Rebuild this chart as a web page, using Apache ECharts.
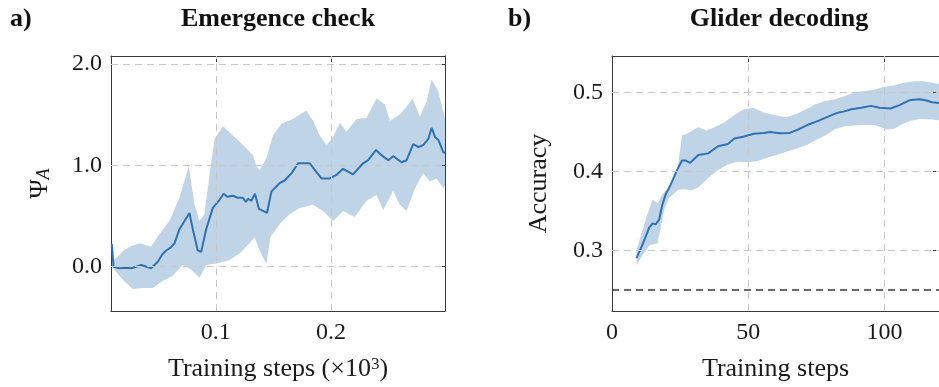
<!DOCTYPE html>
<html>
<head>
<meta charset="utf-8">
<script src="https://cdn.jsdelivr.net/npm/echarts@6/dist/echarts.min.js"></script>
<style>
  html, body { margin: 0; padding: 0; background: #fff; }
  #chart { width: 939px; height: 387px; }
</style>
</head>
<body>
<div id="chart"></div>
<script>
// a) Emergence check, x in training steps (x10^3)
const psiMeanX = [0.0097, 0.0112, 0.0163, 0.0215, 0.0264, 0.031, 0.0351, 0.04, 0.0438, 0.0496, 0.0535, 0.0569, 0.061, 0.0641, 0.0684, 0.0728, 0.0771, 0.08, 0.0843, 0.0873, 0.0916, 0.0974, 0.1032, 0.1067, 0.11, 0.1148, 0.119, 0.1235, 0.126, 0.128, 0.1308, 0.134, 0.1374, 0.1409, 0.1444, 0.1482, 0.1554, 0.1597, 0.1656, 0.1714, 0.1815, 0.1858, 0.1917, 0.1989, 0.2047, 0.2104, 0.2191, 0.2278, 0.2322, 0.2389, 0.2438, 0.2496, 0.2539, 0.2612, 0.2656, 0.2713, 0.276, 0.28, 0.2844, 0.2873, 0.2902, 0.2931, 0.2974, 0.2989];
const psiMean = [0.226, 0.0, -0.016, -0.01, -0.016, 0.0, 0.016, 0.0, -0.016, 0.049, 0.12, 0.16, 0.19, 0.23, 0.37, 0.45, 0.53, 0.37, 0.16, 0.146, 0.37, 0.58, 0.66, 0.72, 0.69, 0.7, 0.68, 0.68, 0.64, 0.67, 0.65, 0.72, 0.57, 0.55, 0.53, 0.74, 0.825, 0.85, 0.92, 1.02, 1.02, 0.955, 0.87, 0.87, 0.905, 0.965, 0.91, 1.02, 1.05, 1.15, 1.1, 1.05, 1.09, 1.03, 1.05, 1.21, 1.18, 1.2, 1.26, 1.37, 1.28, 1.25, 1.13, 1.12];
const psiUpperX = [0.0097, 0.015, 0.02, 0.026, 0.0339, 0.04, 0.0438, 0.051, 0.0597, 0.0684, 0.0765, 0.0815, 0.0858, 0.0902, 0.0945, 0.0989, 0.1061, 0.1148, 0.1235, 0.1322, 0.135, 0.138, 0.1438, 0.1496, 0.1569, 0.167, 0.1786, 0.1843, 0.1902, 0.196, 0.2018, 0.2076, 0.2134, 0.2221, 0.2308, 0.2395, 0.2467, 0.251, 0.2597, 0.2656, 0.2708, 0.2771, 0.283, 0.2873, 0.2931, 0.2989];
const psiUpper = [0.05, 0.1, 0.16, 0.2, 0.23, 0.21, 0.2, 0.32, 0.45, 0.68, 0.99, 0.61, 0.45, 0.52, 0.906, 1.26, 1.385, 1.295, 1.2, 1.1, 1.0, 0.95, 1.07, 1.295, 1.41, 1.456, 1.54, 1.44, 1.295, 1.2, 1.28, 1.42, 1.33, 1.456, 1.47, 1.66, 1.6, 1.44, 1.5, 1.58, 1.66, 1.48, 1.63, 1.845, 1.73, 1.456];
const psiLowerX = [0.0097, 0.0192, 0.0278, 0.0365, 0.0453, 0.0539, 0.0626, 0.0713, 0.0786, 0.0858, 0.0917, 0.1003, 0.1119, 0.1206, 0.1293, 0.1337, 0.138, 0.1438, 0.1473, 0.1554, 0.1641, 0.1728, 0.1843, 0.193, 0.2018, 0.2104, 0.2206, 0.2308, 0.2395, 0.2453, 0.254, 0.2597, 0.2656, 0.2728, 0.28, 0.2858, 0.2916, 0.2974, 0.2989];
const psiLower = [0.0, -0.13, -0.22, -0.21, -0.21, -0.14, -0.09, 0.02, -0.03, -0.11, 0.02, 0.03, 0.065, 0.13, 0.23, 0.29, 0.16, 0.03, 0.29, 0.42, 0.52, 0.58, 0.61, 0.55, 0.45, 0.55, 0.49, 0.65, 0.71, 0.56, 0.75, 0.61, 0.55, 0.77, 0.92, 0.84, 0.87, 0.77, 0.8];
const psiTicksX = [0.1, 0.2];
const psiTicksY = [0, 1, 2];

// b) Glider decoding, x in training steps
const accMeanX = [9, 11.3, 13.7, 14.9, 16.1, 17.3, 18.5, 19.7, 21.5, 23.9, 25.7, 26.9, 28.7, 31.7, 35.3, 38.9, 42.5, 44.9, 48.5, 52, 55.6, 58, 61.6, 65.2, 68.8, 72.4, 75.9, 79.5, 83.1, 84.9, 87.9, 91.5, 95.1, 98.1, 102.3, 105.3, 109.5, 113.1, 115.4, 117.5, 120];
const accMean = [0.29, 0.308, 0.329, 0.334, 0.333, 0.339, 0.358, 0.371, 0.383, 0.402, 0.414, 0.414, 0.411, 0.421, 0.423, 0.432, 0.435, 0.442, 0.4445, 0.448, 0.449, 0.45, 0.4485, 0.449, 0.454, 0.46, 0.4645, 0.47, 0.475, 0.476, 0.479, 0.481, 0.4833, 0.4808, 0.48, 0.484, 0.4908, 0.4916, 0.49, 0.488, 0.487];
const accUpperX = [9, 12.6, 14.9, 16.7, 18.5, 20.9, 23.9, 25.7, 27.5, 31.7, 34.7, 37.7, 41.3, 44.9, 48.5, 52, 55.6, 60.4, 64, 67.6, 71.2, 74.7, 78.3, 81.9, 85.5, 89.1, 92.7, 96.3, 99.9, 103.5, 107.1, 110.7, 114.2, 117.5, 120];
const accUpper = [0.3, 0.3416, 0.3645, 0.36, 0.371, 0.379, 0.4, 0.4458, 0.448, 0.456, 0.452, 0.456, 0.4625, 0.4716, 0.479, 0.4808, 0.475, 0.471, 0.469, 0.473, 0.479, 0.4854, 0.4895, 0.4916, 0.4958, 0.5008, 0.502, 0.504, 0.5075, 0.509, 0.5125, 0.5145, 0.5145, 0.5125, 0.511];
const accLowerX = [9, 11.3, 13.7, 16.7, 17.9, 19.1, 20.9, 24.5, 26.9, 29.3, 31.7, 35.3, 38.9, 42.5, 46.1, 49.7, 53.2, 56.8, 60.4, 64, 67.6, 71.2, 74.7, 78.3, 81.9, 85.5, 89.1, 92.7, 96.3, 98.7, 101.1, 103.5, 105.9, 109.5, 113.1, 117.5, 120];
const accLower = [0.281, 0.294, 0.306, 0.309, 0.329, 0.35, 0.3666, 0.377, 0.3775, 0.376, 0.38, 0.3916, 0.402, 0.409, 0.4125, 0.4116, 0.413, 0.4175, 0.421, 0.425, 0.429, 0.4333, 0.4395, 0.4458, 0.454, 0.4575, 0.4583, 0.459, 0.459, 0.456, 0.4529, 0.4541, 0.459, 0.4645, 0.4666, 0.466, 0.465];
const accTicksX = [50, 100];
const accTicksY = [0.3, 0.4, 0.5];
const chanceLevel = 0.25;

const LINE = "#2f72b4";
const BAND = "rgba(47,114,180,0.3)";
const FRAME = "#3a3a3a";
const GRIDLINE = "#c8c8c8";
const SERIF = "'Liberation Serif', 'Times New Roman', serif";

const pairs = (xs, ys) => xs.map((x, i) => [x, ys[i]]);

const bandSeries = (gridIdx, upX, up, loX, lo) => ({
    type: "custom",
    xAxisIndex: gridIdx * 2,
    yAxisIndex: gridIdx * 2,
    z: 1,
    silent: true,
    renderItem: (params, api) => {
        if (params.context.rendered) {
            return null;
        }
        params.context.rendered = true;
        const top = pairs(upX, up).map((p) => api.coord(p));
        const bottom = pairs(loX, lo).map((p) => api.coord(p)).reverse();
        return {
            type: "polygon",
            shape: { points: top.concat(bottom) },
            style: { fill: BAND },
        };
    },
    data: pairs(upX, up),
});

const gridMarks = (xs, ys, extra) => ({
    silent: true,
    symbol: "none",
    animation: false,
    label: { show: false },
    lineStyle: { color: GRIDLINE, type: [7, 5], width: 1 },
    data: xs.map((v) => ({ xAxis: v })).concat(ys.map((v) => ({ yAxis: v })), extra || []),
});

const tickLabel = { fontFamily: SERIF, fontSize: 24, color: "#1a1a1a" };

const frameAxis = (gridIndex, min, max, ticks, fmt, margin) => ({
    type: "value",
    gridIndex,
    min,
    max,
    axisLine: { show: true, onZero: false, lineStyle: { color: FRAME, width: 1 } },
    axisTick: { show: true, inside: true, length: 6, customValues: ticks, lineStyle: { color: FRAME } },
    axisLabel: { ...tickLabel, margin, customValues: ticks, formatter: fmt },
    splitLine: { show: false },
});

const mirror = (axis, position) => ({
    ...axis,
    position,
    name: "",
    axisLabel: { show: false },
});

const psiX = {
    ...frameAxis(0, 0.009, 0.2989, psiTicksX, (v) => v.toFixed(1), 10),
    name: "{t|Training steps (×10}{s|3}{t|)}",
    nameLocation: "middle",
    nameGap: 45,
    nameTextStyle: {
        rich: {
            t: { fontFamily: SERIF, fontSize: 26, color: "#1a1a1a" },
            s: { fontFamily: SERIF, fontSize: 17, color: "#1a1a1a", verticalAlign: "top" },
        },
    },
};
const psiY = {
    ...frameAxis(0, -0.437, 2.078, psiTicksY, (v) => v.toFixed(1), 9),
    name: "{p|Ψ}{a|A}",
    nameLocation: "middle",
    nameRotate: 90,
    nameGap: 58,
    nameTextStyle: {
        rich: {
            p: { fontFamily: SERIF, fontSize: 26, color: "#1a1a1a" },
            a: { fontFamily: SERIF, fontSize: 18, fontStyle: "italic", color: "#1a1a1a", verticalAlign: "bottom" },
        },
    },
};
const accX = {
    ...frameAxis(1, 0, 120, [0].concat(accTicksX), (v) => String(v), 10),
    name: "Training steps",
    nameLocation: "middle",
    nameGap: 45,
    nameTextStyle: { fontFamily: SERIF, fontSize: 26, color: "#1a1a1a" },
};
const accY = {
    ...frameAxis(1, 0.2229, 0.5466, accTicksY, (v) => v.toFixed(1), 9),
    name: "Accuracy",
    nameLocation: "middle",
    nameRotate: 90,
    nameGap: 60,
    nameTextStyle: { fontFamily: SERIF, fontSize: 26, color: "#1a1a1a" },
};

const titleStyle = { fontFamily: SERIF, fontSize: 26, fontWeight: "bold", color: "#111" };

const option = {
    animation: false,
    title: [
        { text: "a)", left: 10, top: 6, padding: 0, textStyle: titleStyle },
        { text: "Emergence check", left: 278, top: 6, padding: 0, textAlign: "center", textStyle: titleStyle },
        { text: "b)", left: 508, top: 6, padding: 0, textStyle: titleStyle },
        { text: "Glider decoding", left: 779, top: 6, padding: 0, textAlign: "center", textStyle: titleStyle },
    ],
    grid: [
        { left: 111, top: 56, width: 334, height: 259 },
        { left: 612, top: 56, width: 334, height: 259 },
    ],
    xAxis: [psiX, mirror(psiX, "top"), accX, mirror(accX, "top")],
    yAxis: [psiY, mirror(psiY, "right"), accY, mirror(accY, "right")],
    series: [
        bandSeries(0, psiUpperX, psiUpper, psiLowerX, psiLower),
        {
            type: "line",
            xAxisIndex: 0,
            yAxisIndex: 0,
            z: 3,
            symbol: "none",
            silent: true,
            lineStyle: { color: LINE, width: 2 },
            data: pairs(psiMeanX, psiMean),
            markLine: gridMarks(psiTicksX, psiTicksY),
        },
        bandSeries(1, accUpperX, accUpper, accLowerX, accLower),
        {
            type: "line",
            xAxisIndex: 2,
            yAxisIndex: 2,
            z: 3,
            symbol: "none",
            silent: true,
            lineStyle: { color: LINE, width: 2 },
            data: pairs(accMeanX, accMean),
            markLine: gridMarks(accTicksX, accTicksY, [
                { yAxis: chanceLevel, lineStyle: { color: "#3a3a3a", type: [7, 5], width: 1.6 } },
            ]),
        },
    ],
};

const chart = echarts.init(document.getElementById("chart"));
chart.setOption(option);
</script>
</body>
</html>
